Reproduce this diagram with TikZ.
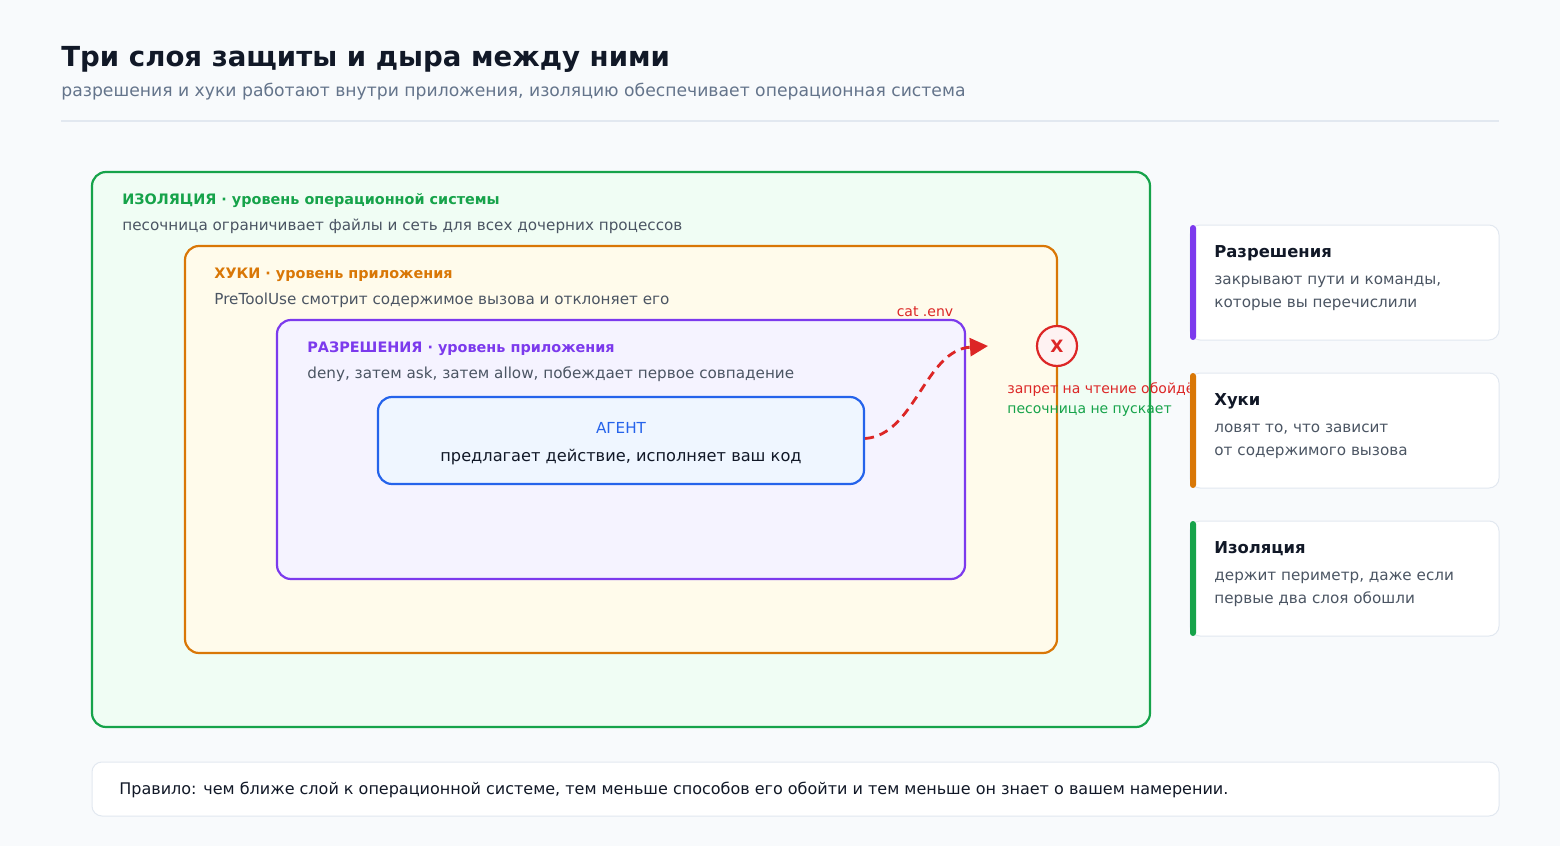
\documentclass[tikz,border=0pt]{standalone}
\usepackage{fontspec}
\setmainfont{DejaVu Sans}
\usetikzlibrary{arrows.meta,positioning}
\definecolor{bgpage}{HTML}{F8FAFC}
\definecolor{ink}{HTML}{111827}
\definecolor{muted}{HTML}{4B5563}
\definecolor{subgray}{HTML}{64748B}
\definecolor{rulegray}{HTML}{E2E8F0}
\definecolor{isogreen}{HTML}{16A34A}
\definecolor{isofill}{HTML}{F0FDF4}
\definecolor{hookorange}{HTML}{D97706}
\definecolor{hookfill}{HTML}{FFFBEB}
\definecolor{permpurple}{HTML}{7C3AED}
\definecolor{permfill}{HTML}{F5F3FF}
\definecolor{agentblue}{HTML}{2563EB}
\definecolor{agentfill}{HTML}{EFF6FF}
\definecolor{denyred}{HTML}{DC2626}
\definecolor{denyfill}{HTML}{FEF2F2}
\tikzset{
  layer/.style={rounded corners=7pt, line width=1.1pt},
  lbl/.style={anchor=west, inner sep=0pt, font=\bfseries\fontsize{7.2}{8}\selectfont},
  txt/.style={anchor=west, inner sep=0pt, text=muted, font=\fontsize{7.6}{9}\selectfont},
  card/.style={fill=white, draw=rulegray, rounded corners=5pt, line width=0.5pt},
  cardtitle/.style={anchor=west, inner sep=0pt, text=ink, font=\bfseries\fontsize{8.2}{9}\selectfont},
  cardtxt/.style={anchor=north west, inner sep=0pt, text=muted, align=left, font=\fontsize{7.6}{11.5}\selectfont},
}
\begin{document}
\begin{tikzpicture}[x=0.5pt,y=-0.5pt]
  % page
  \fill[bgpage] (0,0) rectangle (1560,846);
  \useasboundingbox (0,0) rectangle (1560,846);

  % header
  \node[anchor=base west, inner sep=0pt, text=ink, font=\bfseries\fontsize{13.8}{16}\selectfont] (title) at (61,67) {Три слоя защиты и дыра между ними};
  \node[anchor=west, inner sep=0pt, text=subgray, font=\fontsize{8.6}{10}\selectfont] (subtitle) at (61,92) {разрешения и хуки работают внутри приложения, изоляцию обеспечивает операционная система};
  \draw[rulegray, line width=0.6pt] (61,121) -- (1499,121);

  % layers
  \draw[layer, draw=isogreen, fill=isofill] (92,172) rectangle (1150,727);
  \node[lbl, text=isogreen] (isolbl) at (122,201) {ИЗОЛЯЦИЯ · уровень операционной системы};
  \node[txt] (isotxt) at (122,226) {песочница ограничивает файлы и сеть для всех дочерних процессов};

  \draw[layer, draw=hookorange, fill=hookfill] (185,246) rectangle (1057,653);
  \node[lbl, text=hookorange] (hooklbl) at (214,275) {ХУКИ · уровень приложения};
  \node[txt] (hooktxt) at (214,300) {PreToolUse смотрит содержимое вызова и отклоняет его};

  \draw[layer, draw=permpurple, fill=permfill] (277,320) rectangle (965,579);
  \node[lbl, text=permpurple] (permlbl) at (307,349) {РАЗРЕШЕНИЯ · уровень приложения};
  \node[txt] (permtxt) at (307,374) {deny, затем ask, затем allow, побеждает первое совпадение};

  % agent
  \node[layer, draw=agentblue, fill=agentfill, minimum width=243pt, minimum height=43.5pt] (agent) at (621,440.5) {};
  \node[inner sep=0pt, text=agentblue, font=\fontsize{7.6}{9}\selectfont] (agentlbl) at (621,428) {АГЕНТ};
  \node[inner sep=0pt, text=ink, font=\fontsize{8.1}{10}\selectfont] (agenttxt) at (621,457) {предлагает действие, исполняет ваш код};

  % escape attempt
  \coordinate (tip) at (988,346);
  \draw[denyred, line width=1.4pt, dash pattern=on 4.5pt off 3pt, -{Triangle[length=9pt,width=9pt]}]
    (agent.east) ++(0,-2) .. controls (915,435) and (925,350) .. (tip);
  \node[inner sep=0pt, text=denyred, font=\fontsize{7}{8}\selectfont] (catenv) at (925,312) {cat .env};
  \node[circle, draw=denyred, fill=denyfill, line width=1.1pt, minimum size=20pt, inner sep=0pt, text=denyred, font=\bfseries\fontsize{8.5}{9}\selectfont] (deny) at (1057,346) {X};
  \node[anchor=west, inner sep=0pt, text=denyred, font=\fontsize{7}{8}\selectfont] (denytxt) at (1007,390) {запрет на чтение обойдён};
  \node[anchor=west, inner sep=0pt, text=isogreen, font=\fontsize{7}{8}\selectfont] (sandtxt) at (1007,411) {песочница не пускает};

  % cards
  \foreach \y/\col/\head/\one/\two in {
      225/permpurple/Разрешения/{закрывают пути и команды,}/{которые вы перечислили},
      373/hookorange/Хуки/{ловят то, что зависит}/{от содержимого вызова},
      521/isogreen/Изоляция/{держит периметр, даже если}/{первые два слоя обошли}} {
    \draw[card] (1190,\y) rectangle (1499,\y+115);
    \fill[\col, rounded corners=1.5pt] (1190,\y) rectangle (1196,\y+115);
    \node[cardtitle] at (1214,\y+28) {\head};
    \node[cardtxt] at (1214,\y+51) {\one\\\two};
  }

  % rule
  \draw[card] (92,762) rectangle (1499,816);
  \node[anchor=west, inner sep=0pt, text=ink, font=\fontsize{8}{10}\selectfont] (rule) at (119,790) {Правило: чем ближе слой к операционной системе, тем меньше способов его обойти и тем меньше он знает о вашем намерении.};
\end{tikzpicture}
\end{document}
